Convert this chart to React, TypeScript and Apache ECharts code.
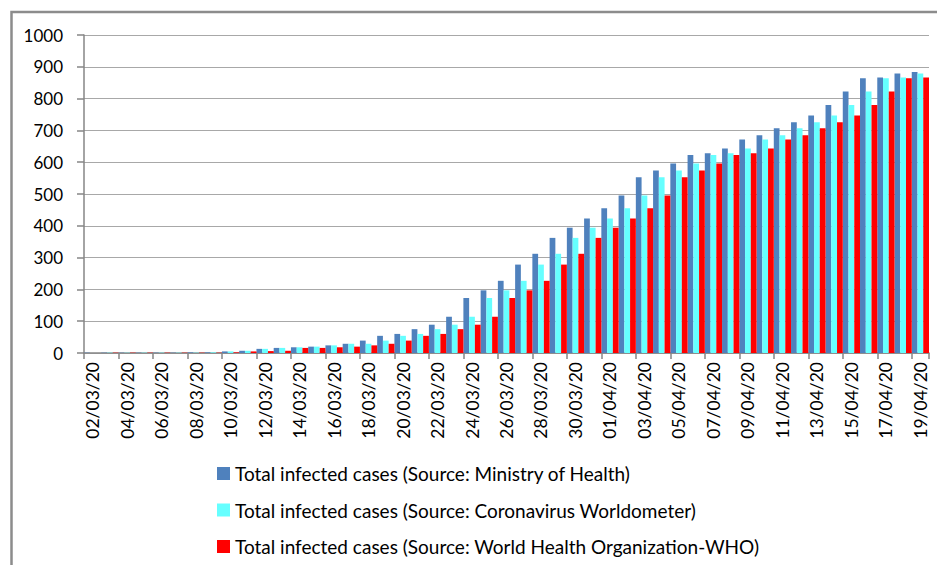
import React, { useEffect, useRef } from "react";
import * as echarts from "echarts";

const dates: string[] = [
  "02/03/20", "03/03/20", "04/03/20", "05/03/20", "06/03/20", "07/03/20", "08/03/20", "09/03/20", "10/03/20", "11/03/20",
  "12/03/20", "13/03/20", "14/03/20", "15/03/20", "16/03/20", "17/03/20", "18/03/20", "19/03/20", "20/03/20", "21/03/20",
  "22/03/20", "23/03/20", "24/03/20", "25/03/20", "26/03/20", "27/03/20", "28/03/20", "29/03/20", "30/03/20", "31/03/20",
  "01/04/20", "02/04/20", "03/04/20", "04/04/20", "05/04/20", "06/04/20", "07/04/20", "08/04/20", "09/04/20", "10/04/20",
  "11/04/20", "12/04/20", "13/04/20", "14/04/20", "15/04/20", "16/04/20", "17/04/20", "18/04/20", "19/04/20",
];

const ministryOfHealth: number[] = [
  1, 1, 1, 1, 1, 1, 2, 2, 5, 7,
  13, 16, 18, 20, 24, 29, 39, 54, 60, 75,
  89, 114, 173, 197, 227, 278, 312, 362, 394, 423,
  455, 495, 553, 574, 596, 623, 628, 643, 671, 685,
  707, 726, 747, 780, 822, 864, 866, 879, 884,
];

const worldometer: number[] = [
  0, 1, 1, 1, 1, 1, 1, 2, 5, 7,
  13, 16, 18, 20, 24, 29, 29, 39, 54, 60,
  75, 89, 114, 173, 197, 227, 278, 312, 362, 394,
  423, 455, 495, 553, 574, 596, 623, 628, 643, 671,
  685, 707, 726, 747, 780, 822, 864, 866, 879,
];

const who: number[] = [
  0, 1, 1, 1, 1, 1, 1, 1, 2, 5,
  6, 7, 16, 16, 18, 20, 24, 29, 39, 54,
  60, 75, 89, 114, 173, 197, 227, 278, 312, 362,
  394, 423, 455, 495, 553, 574, 596, 623, 628, 643,
  671, 685, 707, 726, 747, 780, 822, 864, 866,
];

const seriesNames: string[] = [
  "Total infected cases (Source: Ministry of Health)",
  "Total infected cases (Source: Coronavirus Worldometer)",
  "Total infected cases (Source: World Health Organization-WHO)",
];

const FONT = "Lato, 'Noto Sans', sans-serif";

export default function App() {
  const ref = useRef<HTMLDivElement>(null);

  useEffect(() => {
    if (!ref.current) return;
    const chart = echarts.init(ref.current, undefined, { renderer: "svg" });
    const colors = ["#4F81BD", "#66FFFF", "#FF0000"];
    const data = [ministryOfHealth, worldometer, who];
    const legendTops = [459, 495.5, 532];
    chart.setOption({
      animation: false,
      backgroundColor: "#ffffff",
      textStyle: { fontFamily: FONT },
      grid: { left: 84, right: 8, top: 35, bottom: 212, containLabel: false },
      legend: seriesNames.map((name, k) => ({
        orient: "vertical",
        left: 212,
        top: legendTops[k],
        icon: "rect",
        itemWidth: 13,
        itemHeight: 13,
        itemGap: 0,
        textStyle: { fontFamily: FONT, fontSize: 19, color: "#000" },
        data: [name],
      })),
      xAxis: {
        type: "category",
        data: dates,
        axisLine: { show: true, lineStyle: { color: "#868686", width: 1.5 } },
        axisTick: { show: true, interval: 1, length: 6, lineStyle: { color: "#868686", width: 1.5 } },
        axisLabel: {
          interval: 1,
          rotate: 90,
          margin: 9,
          fontFamily: FONT,
          fontSize: 17.5,
          color: "#000",
        },
      },
      yAxis: {
        type: "value",
        min: 0,
        max: 1000,
        interval: 100,
        axisLine: { show: true, lineStyle: { color: "#868686", width: 1.5 } },
        axisTick: { show: true, length: 7, lineStyle: { color: "#868686", width: 1.5 } },
        axisLabel: {
          margin: 21,
          fontFamily: FONT,
          fontSize: 17,
          color: "#000",
          formatter: (v: number) => String(v),
        },
        splitLine: { show: true, lineStyle: { color: "#a8a8a8", width: 1.2 } },
      },
      series: seriesNames.map((name, k) => ({
        name,
        type: "bar",
        data: data[k],
        barGap: "0%",
        barCategoryGap: "0%",
        itemStyle: { color: colors[k] },
      })),
      graphic: [
        {
          type: "rect",
          shape: { x: 11.5, y: 12, width: 1000, height: 1000 },
          style: { fill: "none", stroke: "#8c8c8c", lineWidth: 2.5 },
          silent: true,
        },
      ],
    });
    return () => chart.dispose();
  }, []);

  return (
    <div
      ref={ref}
      style={{ position: "fixed", left: 0, top: 0, width: 937, height: 565 }}
    />
  );
}
